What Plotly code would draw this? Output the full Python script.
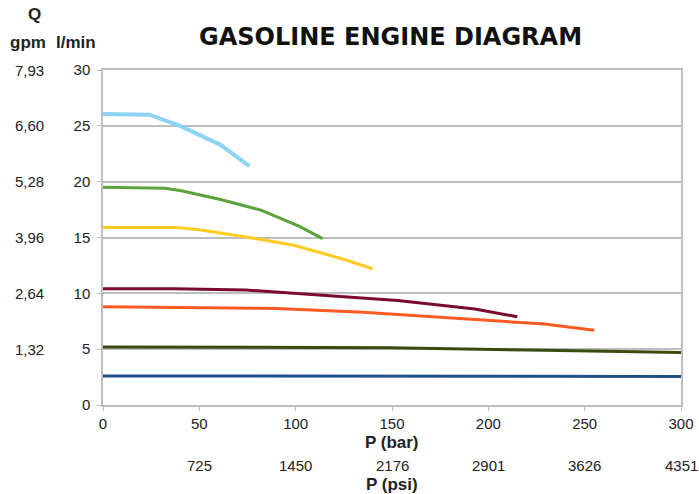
import plotly.graph_objects as go

# ---- data ----
p_lightblue = [0, 24, 40, 61, 76]
q_lightblue = [26.05, 26.0, 25.0, 23.3, 21.4]

p_green = [0, 32, 40, 61, 82, 102, 114]
q_green = [19.5, 19.4, 19.2, 18.4, 17.45, 16.0, 14.9]

p_yellow = [0, 38, 50, 76, 99, 124, 140]
q_yellow = [15.9, 15.9, 15.7, 15.0, 14.3, 13.1, 12.2]

p_maroon = [0, 37, 74, 114, 153, 193, 215]
q_maroon = [10.4, 10.4, 10.3, 9.8, 9.35, 8.6, 7.9]

p_orange = [0, 90, 135, 181, 229, 255]
q_orange = [8.8, 8.65, 8.3, 7.8, 7.25, 6.7]

p_olive = [0, 149, 229, 300]
q_olive = [5.2, 5.13, 4.9, 4.7]

p_blue = [0, 150, 300]
q_blue = [2.6, 2.58, 2.55]

series = [
    (p_lightblue, q_lightblue, "#8DD3F3", 4),
    (p_green, q_green, "#5AA33A", 3),
    (p_yellow, q_yellow, "#FFCB1F", 3),
    (p_maroon, q_maroon, "#7A0A2E", 3),
    (p_orange, q_orange, "#FF5A22", 3),
    (p_olive, q_olive, "#3B4A10", 3),
    (p_blue, q_blue, "#1F4E8A", 3),
]

lmin_ticks = [0, 5, 10, 15, 20, 25, 30]
gpm_ticks = [5, 10, 15, 20, 25, 30]
gpm_labels = ["1,32", "2,64", "3,96", "5,28", "6,60", "7,93"]
bar_ticks = [0, 50, 100, 150, 200, 250, 300]
psi_ticks = [50, 100, 150, 200, 250, 300]
psi_labels = ["725", "1450", "2176", "2901", "3626", "4351"]

FONT = "Liberation Sans, Arial, sans-serif"
TFONT = "DejaVu Sans, Verdana, sans-serif"
TXT = "#222222"
GRID = "#BEBEBE"

fig = go.Figure()
for px_, q_, col, w in series:
    fig.add_trace(go.Scatter(x=px_, y=q_, mode="lines",
                             line=dict(color=col, width=w), showlegend=False,
                             hoverinfo="skip"))

W, H = 699, 494
L, R, T, B = 103, 18, 70, 89
pw, ph = W - L - R, H - T - B

def xp(px):
    return (px - L) / pw

def yp(py):
    return (H - B - py) / ph

ann = []
for v, lab in zip(gpm_ticks, gpm_labels):
    ann.append(dict(x=xp(29), xref="paper", y=v, yref="y", text=lab,
                    showarrow=False, xanchor="center", yanchor="middle",
                    font=dict(family=FONT, size=15, color=TXT)))
for v, lab in zip(psi_ticks, psi_labels):
    ann.append(dict(x=v, xref="x", y=yp(465), yref="paper", text=lab,
                    showarrow=False, xanchor="center", yanchor="middle",
                    font=dict(family=FONT, size=15, color=TXT)))
ann += [
    dict(x=xp(392), xref="paper", y=yp(442), yref="paper", text="<b>P (bar)</b>",
         showarrow=False, xanchor="center", yanchor="middle",
         font=dict(family=FONT, size=17, color=TXT)),
    dict(x=xp(392), xref="paper", y=yp(484), yref="paper", text="<b>P (psi)</b>",
         showarrow=False, xanchor="center", yanchor="middle",
         font=dict(family=FONT, size=17, color=TXT)),
    dict(x=xp(34), xref="paper", y=yp(15), yref="paper", text="<b>Q</b>",
         showarrow=False, xanchor="center", yanchor="middle",
         font=dict(family=FONT, size=17, color=TXT)),
    dict(x=xp(28), xref="paper", y=yp(43), yref="paper", text="<b>gpm</b>",
         showarrow=False, xanchor="center", yanchor="middle",
         font=dict(family=FONT, size=17, color=TXT)),
    dict(x=xp(76), xref="paper", y=yp(43), yref="paper", text="<b>l/min</b>",
         showarrow=False, xanchor="center", yanchor="middle",
         font=dict(family=FONT, size=17, color=TXT)),
    dict(x=xp(390), xref="paper", y=yp(37), yref="paper",
         text="<b>GASOLINE ENGINE DIAGRAM</b>",
         showarrow=False, xanchor="center", yanchor="middle",
         font=dict(family=TFONT, size=24, color="#111111")),
]

fig.update_layout(
    width=W, height=H, autosize=False,
    margin=dict(l=L, r=R, t=T, b=B, pad=0, autoexpand=False),
    paper_bgcolor="white", plot_bgcolor="white",
    annotations=ann,
    xaxis=dict(range=[0, 300], tickvals=bar_ticks, showgrid=False,
               zeroline=False, showline=True, linecolor=GRID, linewidth=1.5,
               mirror=True, ticks="outside", ticklen=4, tickcolor=GRID,
               automargin=False,
               tickfont=dict(family=FONT, size=15, color=TXT)),
    yaxis=dict(range=[0, 30], tickvals=lmin_ticks, showgrid=True,
               gridcolor=GRID, gridwidth=1.5, zeroline=False,
               showline=True, linecolor=GRID, linewidth=1.5, mirror=True,
               ticks="outside", ticklen=4, tickcolor=GRID,
               ticklabelstandoff=4, automargin=False,
               tickfont=dict(family=FONT, size=15, color=TXT)),
)

fig.write_html("out.html",
               config=dict(displayModeBar=False, responsive=False),
               post_script="document.body.style.margin='0';"
                           "document.body.style.overflow='hidden';")
